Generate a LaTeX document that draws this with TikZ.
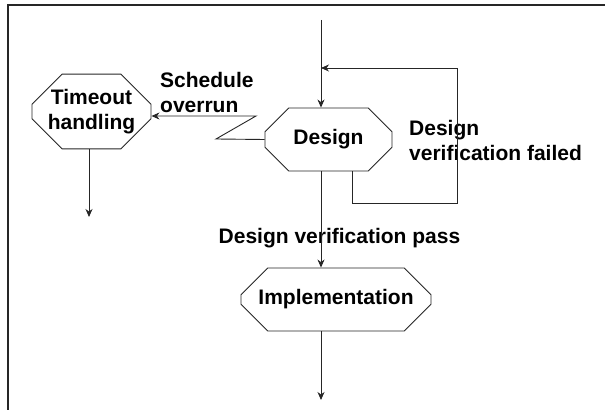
\documentclass[tikz,border=0pt]{standalone}
\usepackage{fontspec}
\setmainfont{Liberation Sans}
\usetikzlibrary{shapes.misc,arrows.meta,positioning}

\begin{document}
\begin{tikzpicture}[
  x=1pt, y=1pt,
  font=\fontsize{21}{25}\selectfont\bfseries,
  stage/.style={chamfered rectangle, draw=black!85, line width=0.9pt, inner sep=0pt, align=center,
    chamfered rectangle xsep=#1, chamfered rectangle ysep=#1},
  lbl/.style={anchor=west, align=left, inner sep=0pt},
  arr/.style={-{Stealth[length=8pt, width=7pt, inset=2.5pt]}, line width=0.9pt, black!85},
  ln/.style={line width=0.9pt, black!85}
]
\useasboundingbox (0,0) rectangle (605,410);
% frame (top and left edges only)
\draw[line width=1.5pt, black!85] (605,405) -- (8,405) -- (8,0);
% stages
\node[stage=14pt, minimum width=127pt, minimum height=63pt] (design) at (328.5,270.5) {Design};
\node[stage=15pt, minimum width=119pt, minimum height=71pt] (timeout) at (91.5,298.5) {Timeout\\handling};
\node[stage=17pt, minimum width=190pt, minimum height=63pt] (impl) at (336,110.5) {Implementation};
% free ends and bends
\coordinate (in) at (321,390);
\coordinate (out) at (321,10);
\coordinate (join) at (321,342);
\coordinate (fb) at (457,207);
\coordinate (tdown) at (89,193);
\coordinate (kink1) at (216,271);
\coordinate (kink2) at (256,294);
% labels
\node[lbl] (overrun) at (160,317.5) {Schedule\\overrun};
\node[lbl] (failed) at (409,269.5) {Design\\verification failed};
\node[inner sep=0pt] (pass) at (339.5,172) {Design verification pass};
% arrows
\draw[arr] (in) -- (in |- design.north);
\draw[arr] ([xshift=23.5pt]design.south) |- (fb) |- (join);
\draw[arr] (design.south -| in) -- (impl.north -| in);
\draw[arr] (impl.south -| in) -- (out);
\draw[arr] (design.west) -- (kink1) -- (kink2) -- (kink2 -| timeout.east);
\draw[arr] (timeout.south -| tdown) -- (tdown);
\end{tikzpicture}
\end{document}
